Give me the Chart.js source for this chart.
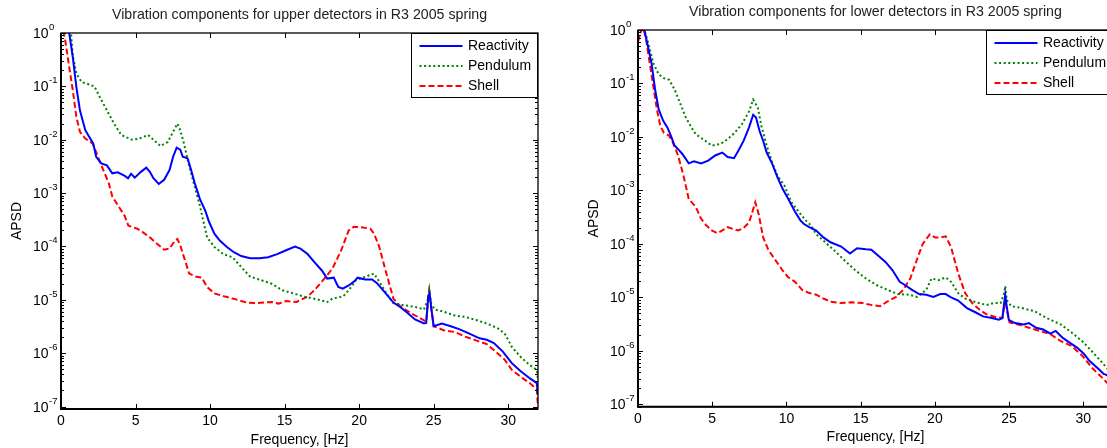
<!doctype html>
<html>
<head>
<meta charset="utf-8">
<title>APSD</title>
<script src="https://cdn.jsdelivr.net/npm/chart.js"></script>
<style>
  body { margin: 0; background: #fff; overflow: hidden; width: 1107px; height: 448px; position: relative; }
  canvas { position: absolute; top: 0; }
</style>
</head>
<body>
<canvas id="upper" width="560" height="448" style="left:0"></canvas>
<canvas id="lower" width="580" height="448" style="left:560px"></canvas>
<script>
// axis ticks
var freqTicks = [0, 5, 10, 15, 20, 25, 30];
var apsdTicks = [1e-7, 1e-6, 1e-5, 1e-4, 1e-3, 1e-2, 1e-1, 1];
var seriesNames = ['Reactivity', 'Pendulum', 'Shell'];

// upper detectors
var upperFreqR = [0.45, 0.55, 0.79, 1.03, 1.27, 1.63, 1.88, 2.16, 2.36, 2.7, 3.08, 3.44, 3.8, 4.28, 4.5, 4.7, 4.95, 5.36, 5.72, 5.96, 6.2, 6.56, 6.92, 7.28, 7.52, 7.76, 8.0, 8.17, 8.49, 8.73, 8.97, 9.33, 9.69, 9.93, 10.29, 10.65, 11.13, 11.6, 12.09, 12.69, 13.3, 13.9, 14.5, 15.1, 15.7, 16.06, 16.54, 17.0, 17.5, 17.86, 18.3, 18.6, 18.9, 19.3, 19.66, 19.9, 20.4, 20.87, 21.2, 21.7, 22.3, 22.8, 23.27, 23.75, 24.35, 24.5, 24.64, 24.73, 24.83, 25.0, 25.55, 26.15, 26.75, 27.36, 28.08, 28.56, 29.04, 29.64, 30.24, 30.84, 31.44, 31.92, 32.0];
var upperReactivity = [2, 1.0, 0.355, 0.098, 0.0355, 0.0151, 0.0115, 8.5e-3, 4.8e-3, 3.6e-3, 3.3e-3, 2.35e-3, 2.45e-3, 2.1e-3, 1.9e-3, 2.3e-3, 1.95e-3, 2.5e-3, 3.0e-3, 2.5e-3, 1.9e-3, 1.48e-3, 1.78e-3, 2.7e-3, 4.8e-3, 7.1e-3, 6.5e-3, 4.8e-3, 4.5e-3, 2.7e-3, 1.55e-3, 7.6e-4, 4.6e-4, 2.9e-4, 1.74e-4, 1.29e-4, 9.8e-5, 7.8e-5, 6.6e-5, 6.0e-5, 6.0e-5, 6.3e-5, 7.2e-5, 8.5e-5, 1.0e-4, 9.1e-5, 7.2e-5, 5.1e-5, 3.55e-5, 2.5e-5, 2.6e-5, 1.74e-5, 1.62e-5, 1.86e-5, 2.2e-5, 2.6e-5, 2.4e-5, 2.4e-5, 2.05e-5, 1.41e-5, 8.9e-6, 7.2e-6, 5.6e-6, 4.3e-6, 3.6e-6, 3.7e-6, 1.15e-5, 1.32e-5, 7.4e-6, 3.2e-6, 3.6e-6, 3.2e-6, 2.8e-6, 2.35e-6, 1.9e-6, 1.78e-6, 1.55e-6, 1.07e-6, 6.5e-7, 4.6e-7, 3.4e-7, 2.75e-7, 1.66e-7];

var upperFreqP = [0.35, 0.67, 0.79, 1.03, 1.39, 1.75, 2.24, 2.6, 3.08, 3.56, 4.04, 4.76, 5.24, 5.84, 6.2, 6.68, 7.16, 7.52, 7.81, 8.0, 8.25, 8.6, 8.97, 9.33, 9.57, 9.8, 10.29, 10.89, 11.5, 11.85, 12.2, 12.7, 13.4, 14.13, 14.86, 15.58, 16.3, 17.0, 17.6, 17.86, 18.2, 18.94, 19.3, 19.8, 20.4, 21.0, 21.35, 21.83, 22.3, 23.0, 23.75, 24.35, 24.6, 24.7, 24.83, 25.07, 25.67, 26.4, 27.1, 27.84, 28.56, 29.28, 29.76, 30.24, 30.84, 31.44, 31.92, 32.0];
var upperPendulum = [2, 1.0, 0.38, 0.174, 0.12, 0.112, 0.1, 0.063, 0.0355, 0.02, 0.0123, 0.01, 0.0105, 0.0123, 0.01, 7.6e-3, 9.1e-3, 0.0141, 0.02, 0.0151, 8.5e-3, 3.2e-3, 1.32e-3, 5.6e-4, 2.8e-4, 1.48e-4, 9.8e-5, 7.2e-5, 6.3e-5, 4.9e-5, 3.8e-5, 2.7e-5, 2.35e-5, 2.0e-5, 1.51e-5, 1.32e-5, 1.15e-5, 1.05e-5, 9.5e-6, 9.1e-6, 1.05e-5, 1.17e-5, 1.51e-5, 2.35e-5, 2.7e-5, 3.1e-5, 2.2e-5, 1.32e-5, 8.7e-6, 7.9e-6, 7.4e-6, 6.6e-6, 1.0e-5, 1.51e-5, 8.5e-6, 6.6e-6, 6.0e-6, 5.1e-6, 4.8e-6, 4.2e-6, 3.6e-6, 2.95e-6, 2.35e-6, 1.32e-6, 8.5e-7, 6.0e-7, 4.9e-7, 3.2e-7];

var upperFreqS = [0.0, 0.19, 0.31, 0.55, 0.79, 1.03, 1.27, 1.63, 2.12, 2.48, 2.84, 3.2, 3.44, 3.8, 4.28, 4.52, 5.12, 5.48, 5.96, 6.44, 6.92, 7.28, 7.64, 7.81, 8.0, 8.25, 8.6, 9.09, 9.45, 9.8, 10.29, 11.0, 11.73, 12.45, 13.17, 14.13, 14.6, 15.1, 15.8, 16.54, 17.0, 17.5, 18.2, 18.8, 19.3, 19.66, 20.14, 20.75, 21.0, 21.35, 21.83, 22.3, 22.8, 23.5, 24.23, 24.5, 24.64, 24.7, 24.83, 25.0, 25.67, 26.4, 27.1, 27.84, 28.56, 29.28, 29.76, 30.24, 30.96, 31.44, 31.92, 32.0];
var upperShell = [1.6, 1.0, 0.65, 0.23, 0.085, 0.027, 0.0141, 0.0105, 8.5e-3, 4.8e-3, 2.7e-3, 1.55e-3, 8.7e-4, 6.0e-4, 3.7e-4, 2.45e-4, 2.15e-4, 1.86e-4, 1.48e-4, 1.12e-4, 8.7e-5, 9.1e-5, 1.29e-4, 1.38e-4, 1.05e-4, 6.3e-5, 3.1e-5, 2.7e-5, 2.6e-5, 1.74e-5, 1.32e-5, 1.15e-5, 1.02e-5, 8.9e-6, 8.7e-6, 9.1e-6, 8.5e-6, 9.5e-6, 9.1e-6, 1.15e-5, 1.51e-5, 2.2e-5, 3.8e-5, 8.5e-5, 2.0e-4, 2.35e-4, 2.3e-4, 2.15e-4, 1.74e-4, 9.8e-5, 3.1e-5, 1.05e-5, 7.4e-6, 5.6e-6, 4.3e-6, 3.9e-6, 1.15e-5, 1.51e-5, 7.4e-6, 3.2e-6, 2.7e-6, 2.5e-6, 2.05e-6, 1.74e-6, 1.48e-6, 1.0e-6, 7.6e-7, 4.9e-7, 3.4e-7, 2.75e-7, 2.1e-7, 1.0e-7];

// lower detectors
var lowerFreqR = [0.07, 0.43, 0.67, 0.91, 1.15, 1.39, 1.7, 1.98, 2.22, 2.46, 2.7, 2.99, 3.42, 3.77, 4.25, 4.73, 5.2, 5.68, 6.04, 6.47, 6.76, 7.12, 7.48, 7.76, 7.95, 8.19, 8.43, 8.67, 9.03, 9.39, 9.74, 10.1, 10.58, 10.94, 11.18, 11.54, 12.01, 12.49, 12.97, 13.69, 14.28, 14.76, 15.36, 15.72, 16.19, 16.67, 17.15, 17.63, 17.98, 18.46, 18.94, 19.42, 19.9, 20.37, 20.73, 21.09, 21.57, 22.16, 22.76, 23.24, 23.84, 24.31, 24.55, 24.67, 24.74, 24.84, 24.98, 25.39, 25.99, 26.34, 26.82, 27.3, 27.78, 28.14, 28.62, 29.1, 29.58, 30.05, 30.41, 31.01, 31.37, 31.55, 32.0];
var lowerReactivity = [2, 1.0, 0.49, 0.24, 0.078, 0.033, 0.02, 0.0151, 0.0105, 6.9e-3, 5.9e-3, 4.8e-3, 3.2e-3, 3.5e-3, 3.2e-3, 3.6e-3, 4.5e-3, 5.1e-3, 4.2e-3, 4.0e-3, 5.5e-3, 8.5e-3, 0.0151, 0.026, 0.023, 0.0129, 8.5e-3, 5.1e-3, 3.2e-3, 1.78e-3, 1.07e-3, 7.1e-4, 4.0e-4, 2.75e-4, 2.35e-4, 2.05e-4, 1.78e-4, 1.32e-4, 1.07e-4, 8.9e-5, 6.6e-5, 8.3e-5, 7.9e-5, 7.8e-5, 6.0e-5, 4.6e-5, 3.2e-5, 1.95e-5, 1.7e-5, 1.38e-5, 1.15e-5, 1.12e-5, 1.02e-5, 1.15e-5, 1.15e-5, 1.0e-5, 8.7e-6, 6.3e-6, 5.2e-6, 4.4e-6, 4.1e-6, 3.8e-6, 4.1e-6, 7.8e-6, 1.1e-5, 6.8e-6, 3.8e-6, 3.3e-6, 3.1e-6, 3.3e-6, 2.7e-6, 2.5e-6, 2.1e-6, 2.35e-6, 1.74e-6, 1.41e-6, 1.15e-6, 8.7e-7, 6.5e-7, 4.6e-7, 3.7e-7, 3.55e-7, 2.8e-7];

var lowerFreqP = [0.2, 0.43, 0.67, 1.03, 1.39, 1.74, 2.1, 2.46, 2.82, 3.18, 3.53, 3.89, 4.37, 4.97, 5.56, 6.04, 6.52, 7.0, 7.48, 7.76, 8.07, 8.31, 8.67, 9.03, 9.39, 9.86, 10.34, 10.82, 11.3, 11.66, 12.01, 12.49, 13.21, 13.92, 14.64, 15.36, 16.07, 16.79, 17.51, 18.22, 18.82, 19.42, 19.78, 20.25, 20.73, 21.09, 21.57, 22.04, 22.76, 23.48, 23.96, 24.43, 24.67, 24.74, 24.84, 25.15, 25.87, 26.7, 27.54, 28.49, 29.21, 29.93, 30.65, 31.37, 31.55, 32.0];
var lowerPendulum = [2, 1.0, 0.6, 0.24, 0.148, 0.126, 0.117, 0.078, 0.044, 0.0245, 0.0162, 0.0112, 9.1e-3, 6.9e-3, 7.4e-3, 9.1e-3, 0.012, 0.0174, 0.030, 0.05, 0.0355, 0.0162, 6.9e-3, 3.4e-3, 1.9e-3, 1.23e-3, 6.0e-4, 4.0e-4, 2.75e-4, 2.2e-4, 1.51e-4, 1.15e-4, 7.6e-5, 4.9e-5, 3.2e-5, 2.25e-5, 1.7e-5, 1.38e-5, 1.15e-5, 1.12e-5, 1.02e-5, 1.38e-5, 2.25e-5, 2.1e-5, 2.35e-5, 1.95e-5, 1.2e-5, 9.5e-6, 8.1e-6, 7.2e-6, 7.8e-6, 7.8e-6, 1.2e-5, 1.62e-5, 8.9e-6, 6.8e-6, 6.3e-6, 5.5e-6, 4.1e-6, 3.1e-6, 2.2e-6, 1.51e-6, 9.3e-7, 5.6e-7, 4.9e-7, 3.55e-7];

var lowerFreqS = [0.0, 0.19, 0.36, 0.55, 0.79, 1.03, 1.27, 1.5, 1.74, 2.1, 2.34, 2.7, 3.06, 3.42, 3.89, 4.25, 4.61, 4.97, 5.33, 5.68, 6.04, 6.4, 6.76, 7.12, 7.48, 7.71, 7.9, 8.14, 8.43, 8.79, 9.27, 9.74, 10.1, 10.58, 11.06, 11.54, 12.01, 12.49, 12.97, 13.69, 14.4, 15.12, 15.83, 16.31, 16.79, 17.39, 17.87, 18.34, 18.7, 19.18, 19.66, 20.01, 20.37, 20.73, 21.09, 21.57, 22.04, 22.52, 23.0, 23.48, 24.07, 24.55, 24.67, 24.74, 24.84, 25.03, 25.63, 26.34, 27.06, 27.78, 28.49, 29.21, 29.93, 30.65, 31.37, 31.55, 32.0];
var lowerShell = [0.6, 0.93, 1.1, 0.65, 0.24, 0.089, 0.033, 0.0162, 0.012, 0.0105, 7.9e-3, 4.5e-3, 1.9e-3, 6.9e-4, 4.9e-4, 2.95e-4, 2.2e-4, 1.78e-4, 1.58e-4, 1.78e-4, 2.05e-4, 1.9e-4, 1.78e-4, 2.0e-4, 2.5e-4, 4.0e-4, 6.0e-4, 3.5e-4, 1.32e-4, 7.6e-5, 4.9e-5, 3.2e-5, 2.4e-5, 1.95e-5, 1.38e-5, 1.2e-5, 1.12e-5, 9.5e-6, 8.3e-6, 7.8e-6, 8.1e-6, 7.8e-6, 7.1e-6, 6.8e-6, 8.3e-6, 1.02e-5, 1.38e-5, 2.25e-5, 4.3e-5, 1.0e-4, 1.51e-4, 1.32e-4, 1.32e-4, 1.38e-4, 8.7e-5, 2.8e-5, 1.2e-5, 7.8e-6, 5.9e-6, 4.8e-6, 4.3e-6, 4.1e-6, 6.8e-6, 9.5e-6, 5.9e-6, 3.4e-6, 3.1e-6, 2.7e-6, 2.35e-6, 2.05e-6, 1.51e-6, 1.23e-6, 8.1e-7, 4.6e-7, 2.95e-7, 2.6e-7, 2.0e-7];

var FONT = "'Liberation Sans', Arial, Helvetica, sans-serif";
var lineStyles = [
    { color: '#0000ff', dash: [] },
    { color: '#008000', dash: [2, 2.6] },
    { color: '#ff0000', dash: [6, 3] }
];

function xy(freq, vals) {
    return freq.map(function (f, i) { return { x: f, y: vals[i] }; });
}

// frame, inward ticks, decade labels, titles and legend in the old matlab look
var matlabFrame = {
    id: 'matlabFrame',
    afterDraw: function (chart, args, opts) {
        var ctx = chart.ctx, a = chart.chartArea;
        var x = chart.scales.x, y = chart.scales.y;
        ctx.save();

        ctx.strokeStyle = '#000';
        ctx.lineWidth = 1;
        ctx.beginPath();
        freqTicks.forEach(function (v) {
            var px = Math.round(x.getPixelForValue(v)) + 0.5;
            ctx.moveTo(px, a.bottom); ctx.lineTo(px, a.bottom - 5);
            ctx.moveTo(px, a.top); ctx.lineTo(px, a.top + 5);
        });
        for (var e = -8; e <= 0; e++) {
            for (var m = 1; m <= 9; m++) {
                var v = m * Math.pow(10, e);
                if (v < y.min || v > y.max * 1.0001) continue;
                var py = Math.round(y.getPixelForValue(v)) + 0.5;
                var len = m === 1 ? 5 : 3;
                ctx.moveTo(a.left, py); ctx.lineTo(a.left + len, py);
                ctx.moveTo(a.right, py); ctx.lineTo(a.right - len, py);
            }
        }
        ctx.stroke();

        // axes box
        ctx.lineWidth = 1.3;
        ctx.strokeRect(a.left, a.top, a.right - a.left, a.bottom - a.top);
        ctx.lineWidth = 2;
        ctx.beginPath();
        ctx.moveTo(a.left, a.top); ctx.lineTo(a.left, a.bottom); ctx.lineTo(a.right, a.bottom);
        ctx.stroke();

        // decade labels 10^n
        ctx.fillStyle = '#000';
        ctx.textAlign = 'left';
        ctx.textBaseline = 'alphabetic';
        apsdTicks.forEach(function (v) {
            var py = y.getPixelForValue(v);
            var exp = Math.round(Math.log10(v));
            ctx.font = '14px ' + FONT;
            var lx = a.left - 28;
            ctx.fillText('10', lx, py + 5);
            var w = ctx.measureText('10').width;
            ctx.font = '9.5px ' + FONT;
            ctx.fillText(String(exp), lx + w + 0.5, py - 3);
        });

        // chart title and axis titles
        ctx.font = '14.2px ' + FONT;
        ctx.fillStyle = '#222';
        ctx.textAlign = 'center';
        ctx.fillText(opts.title, (a.left + a.right) / 2, a.top - 14.5);
        ctx.font = '14px ' + FONT;
        ctx.fillStyle = '#000';
        ctx.fillText('Frequency, [Hz]', (a.left + a.right) / 2, a.bottom + 34.5);
        ctx.save();
        ctx.translate(a.left - 40.5, (a.top + a.bottom) / 2);
        ctx.rotate(-Math.PI / 2);
        ctx.fillText('APSD', 0, 0);
        ctx.restore();

        // legend box in the top right corner
        var bw = 127, bh = 65;
        var bx = a.right - bw, by = a.top;
        ctx.fillStyle = '#fff';
        ctx.fillRect(bx, by, bw, bh);
        ctx.lineWidth = 1;
        ctx.strokeStyle = '#000';
        ctx.strokeRect(bx + 0.5, by + 0.5, bw - 1, bh - 1);
        ctx.textAlign = 'left';
        ctx.textBaseline = 'middle';
        ctx.font = '14px ' + FONT;
        chart.data.datasets.forEach(function (ds, i) {
            var ry = Math.round(by + 12.5 + i * 20);
            ctx.strokeStyle = ds.borderColor;
            ctx.lineWidth = 2;
            ctx.setLineDash(ds.borderDash || []);
            ctx.beginPath();
            ctx.moveTo(bx + 8.5, ry);
            ctx.lineTo(bx + 51.5, ry);
            ctx.stroke();
            ctx.setLineDash([]);
            ctx.fillStyle = '#000';
            ctx.fillText(ds.label, bx + 57, ry + 0.5);
        });

        ctx.restore();
    }
};

function panel(id, title, series, pad) {
    return new Chart(document.getElementById(id), {
        type: 'line',
        data: {
            datasets: series.map(function (s, i) {
                return {
                    label: seriesNames[i],
                    data: s,
                    borderColor: lineStyles[i].color,
                    borderDash: lineStyles[i].dash,
                    borderWidth: 2,
                    borderCapStyle: 'butt',
                    pointRadius: 0,
                    tension: 0,
                    fill: false,
                    clip: 0
                };
            })
        },
        options: {
            responsive: false,
            animation: false,
            layout: { padding: pad },
            plugins: {
                legend: { display: false },
                tooltip: { enabled: false },
                matlabFrame: { title: title }
            },
            scales: {
                x: {
                    type: 'linear',
                    min: 0,
                    max: 32,
                    grid: { display: false, drawTicks: false },
                    border: { display: false },
                    ticks: { color: '#000', font: { family: FONT, size: 14 }, padding: 4, maxRotation: 0 },
                    afterBuildTicks: function (s) { s.ticks = freqTicks.map(function (v) { return { value: v }; }); },
                    afterFit: function (s) { s.height = 30; }
                },
                y: {
                    type: 'logarithmic',
                    display: false,
                    min: 9e-8,
                    max: 1,
                    afterBuildTicks: function (s) { s.ticks = apsdTicks.map(function (v) { return { value: v }; }); }
                }
            }
        },
        plugins: [matlabFrame]
    });
}

panel('upper', 'Vibration components for upper detectors in R3 2005 spring',
    [xy(upperFreqR, upperReactivity), xy(upperFreqP, upperPendulum), xy(upperFreqS, upperShell)],
    { left: 61, top: 33, right: 22, bottom: 9 });

panel('lower', 'Vibration components for lower detectors in R3 2005 spring',
    [xy(lowerFreqR, lowerReactivity), xy(lowerFreqP, lowerPendulum), xy(lowerFreqS, lowerShell)],
    { left: 78, top: 30, right: 27, bottom: 11.3 });
</script>
</body>
</html>
